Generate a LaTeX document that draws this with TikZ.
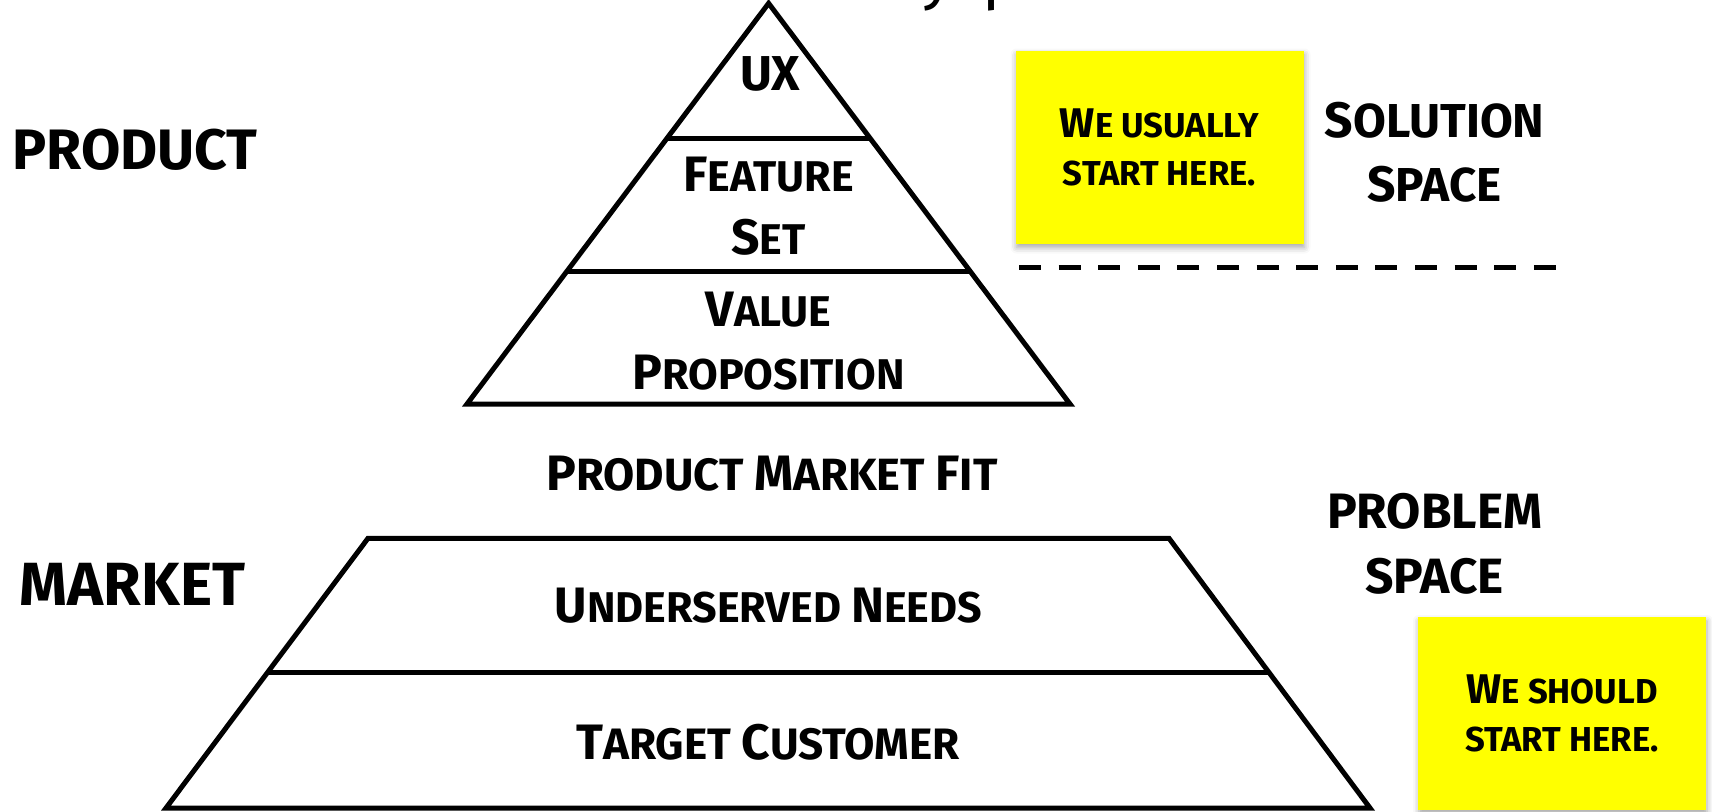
\documentclass[tikz,border=0pt]{standalone}
\usepackage{fontspec}
\setmainfont{Fira Sans}
\usepackage{relsize}
\usetikzlibrary{shadows.blur}
\definecolor{noteyellow}{RGB}{255,255,0}
% larger initial capital inside small-caps style labels
\newcommand\Up[1]{{\relscale{1.25}#1}}
\tikzset{
  pyr/.style={line width=2.5pt, line join=miter},
  lbl/.style={font=\bfseries\fontsize{21.5}{31.5}\selectfont, align=center, inner sep=0pt},
  side/.style={font=\bfseries\fontsize{23.8}{32}\selectfont, align=center, inner sep=0pt},
  big/.style={font=\bfseries\fontsize{28.5}{34}\selectfont, inner sep=0pt},
  sticky/.style={fill=noteyellow, minimum width=144pt, minimum height=96.5pt,
    inner sep=0pt, align=center, font=\bfseries\fontsize{17.3}{24}\selectfont,
    blur shadow={shadow xshift=0.5pt, shadow yshift=-2pt, shadow blur radius=3pt, shadow opacity=35}},
  sepline/.style={line width=2.5pt, dash pattern=on 11pt off 8.8pt},
  titlefrag/.style={font=\fontsize{32}{36}\selectfont, inner sep=0pt}
}
\begin{document}
\begin{tikzpicture}[x=0.5pt, y=-0.5pt]
\useasboundingbox (0,0) rectangle (1712,811);

% title above the frame: only its descenders reach into the picture
\begin{scope}
  \clip (0,0) rectangle (1712,811);
  \node[titlefrag, anchor=base] (titley) at (937,-3) {y};
  \node[titlefrag, anchor=base west] (titlep) at (982,-3) {p};
\end{scope}

% product pyramid
\coordinate (apex) at (768.6,3.3);
\coordinate (pbl) at (467,404);
\coordinate (pbr) at (1070,404);
\draw[pyr] (apex) -- (pbr) -- (pbl) -- cycle;
\coordinate (uxl) at (666.7,138.7);
\coordinate (uxr) at (870.5,138.7);
\draw[pyr] (uxl) -- (uxr);
\coordinate (fsl) at (566.4,271.9);
\coordinate (fsr) at (970.8,271.9);
\draw[pyr] (fsl) -- (fsr);

% market base
\coordinate (mtl) at (368,538.3);
\coordinate (mtr) at (1169,538.3);
\coordinate (mbr) at (1370,808);
\coordinate (mbl) at (166,808);
\draw[pyr] (mtl) -- (mtr) -- (mbr) -- (mbl) -- cycle;
\coordinate (mml) at (267.5,672.6);
\coordinate (mmr) at (1269.5,672.6);
\draw[pyr] (mml) -- (mmr);

% layer labels
\node[lbl, font=\bfseries\fontsize{24.5}{30}\selectfont] (ux) at (770,74) {UX};
\node[lbl] (feature) at (768.6,206) {\Up{F}EATURE\\\Up{S}ET};
\node[lbl] (value) at (768.6,341) {\Up{V}ALUE\\\Up{P}ROPOSITION};
\node[lbl, font=\bfseries\fontsize{22.6}{31.5}\selectfont] (pmf) at (772,474) {\Up{P}RODUCT \Up{M}ARKET \Up{F}IT};
\node[lbl] (needs) at (768.5,606) {\Up{U}NDERSERVED \Up{N}EEDS};
\node[lbl, font=\bfseries\fontsize{22}{31.5}\selectfont] (target) at (768,742) {\Up{T}ARGET \Up{C}USTOMER};

% side labels
\node[big] (product) at (135,149.6) {PRODUCT};
\node[big, font=\bfseries\fontsize{30.5}{34}\selectfont] (market) at (132.5,584) {MARKET};
\node[side] (solution) at (1434.6,152) {\Up{S}OLUTION\\\Up{S}PACE};
\node[side, font=\bfseries\fontsize{24.8}{32.5}\selectfont] (problem) at (1434.6,544) {\Up{P}ROBLEM\\\Up{S}PACE};

% boundary between solution and problem space
\coordinate (sepa) at (1019,267.5);
\coordinate (sepb) at (1556,267.5);
\draw[sepline] (sepa) -- (sepb);

% sticky notes
\node[sticky] (usually) at (1159.5,147) {\Up{W}E USUALLY\\START HERE.};
\node[sticky] (should) at (1562,713.5) {\Up{W}E SHOULD\\START HERE.};
\end{tikzpicture}
\end{document}
